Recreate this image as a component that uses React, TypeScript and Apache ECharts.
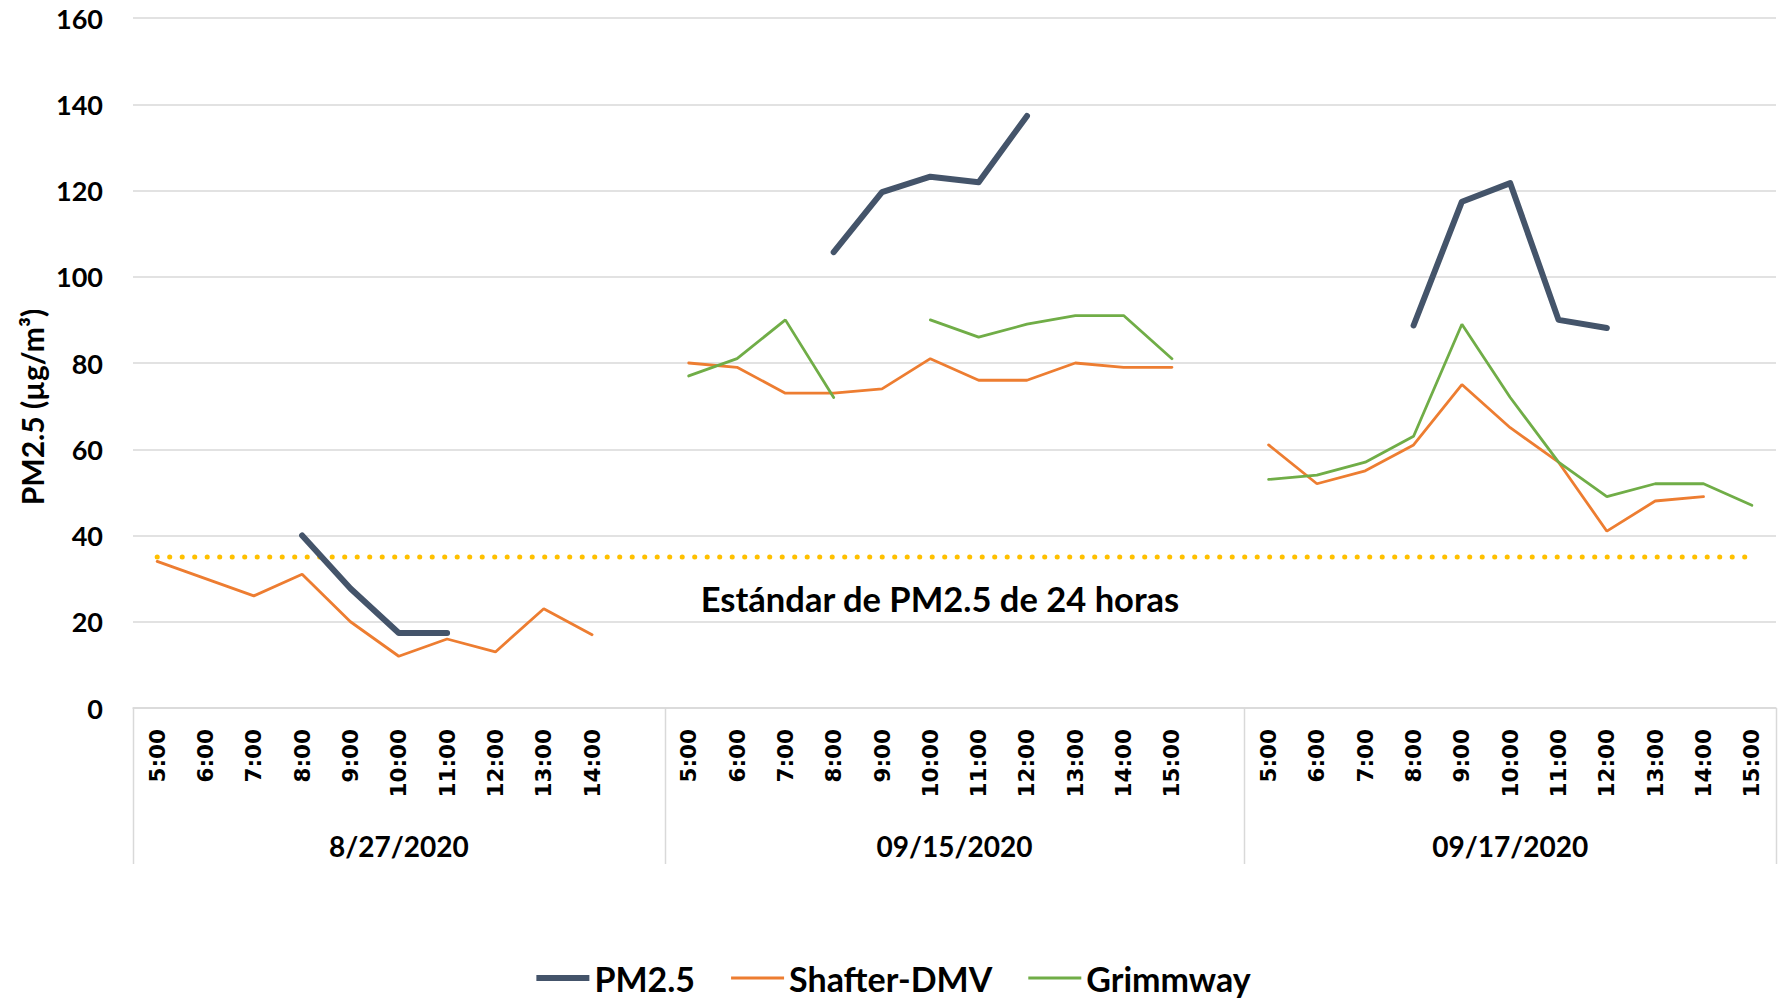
import React, { useEffect, useRef } from "react";
import * as echarts from "echarts";

// ---------- data ----------
const hours0827 = ["5:00", "6:00", "7:00", "8:00", "9:00", "10:00", "11:00", "12:00", "13:00", "14:00"];
const hours0915 = ["5:00", "6:00", "7:00", "8:00", "9:00", "10:00", "11:00", "12:00", "13:00", "14:00", "15:00"];
const hours0917 = ["5:00", "6:00", "7:00", "8:00", "9:00", "10:00", "11:00", "12:00", "13:00", "14:00", "15:00"];
const dates = ["8/27/2020", "09/15/2020", "09/17/2020"];

const pm25_0827 = [null, null, null, 40, 27.7, 17.4, 17.4, null, null, null];
const pm25_0915 = [null, null, null, 105.7, 119.6, 123.2, 121.9, 137.3, null, null, null];
const pm25_0917 = [null, null, null, 88.7, 117.4, 121.7, 90, 88.1, null, null, null];

const shafter_0827 = [34, 30, 26, 31, 20, 12, 16, 13, 23, 17];
const shafter_0915 = [80, 79, 73, 73, 74, 81, 76, 76, 80, 79, 79];
const shafter_0917 = [61, 52, 55, 61, 75, 65, 57, 41, 48, 49, null];

const grimmway_0827 = [null, null, null, null, null, null, null, null, null, null];
const grimmway_0915 = [77, 81, 90, 72, null, 90, 86, 89, 91, 91, 81];
const grimmway_0917 = [53, 54, 57, 63, 89, 72, 57, 49, 52, 52, 47];

const STANDARD_24H = 35;
const standardLabel = "Estándar de PM2.5 de 24 horas";
const yAxisTitle = "PM2.5 (µg/m³)";
const yTicks = { min: 0, max: 160, interval: 20 };

// ---------- helpers ----------
const groups = [hours0827, hours0915, hours0917];
const categories: string[] = [...hours0827, "", ...hours0915, "", ...hours0917];
const join3 = (a: any[], b: any[], c: any[]) => [...a, null, ...b, null, ...c];

const pm25 = join3(pm25_0827, pm25_0915, pm25_0917);
const shafter = join3(shafter_0827, shafter_0915, shafter_0917);
const grimmway = join3(grimmway_0827, grimmway_0915, grimmway_0917);
const standard = categories.map(() => STANDARD_24H);

const LABEL_FONT = "Lato, 'Open Sans', sans-serif";
const GRID_COLOR = "#D9D9D9";
const C_PM = "#44546A";
const C_SH = "#ED7D31";
const C_GR = "#70AD47";

export default function App() {
  const ref = useRef<HTMLDivElement>(null);

  useEffect(() => {
    if (!ref.current) return;
    const chart = echarts.init(ref.current, undefined, { renderer: "svg" });

    chart.setOption({
      animation: false,
      backgroundColor: "#ffffff",
      grid: { left: 133, right: 11, top: 18, bottom: 290, containLabel: false },
      legend: {
        data: [
          { name: "PM2.5", icon: "path://M0,0H53V6H0Z" },
          { name: "Shafter-DMV", icon: "path://M0,0H53V3H0Z" },
          { name: "Grimmway", icon: "path://M0,0H53V3H0Z" },
        ],
        top: 961,
        left: "center",
        itemWidth: 53,
        itemHeight: 14,
        itemGap: 36,
        padding: 0,
        symbolKeepAspect: true,
        textStyle: {
          fontFamily: LABEL_FONT,
          fontWeight: "bold",
          fontSize: 34,
          lineHeight: 28,
          color: "#000",
        },
      },
      xAxis: {
        type: "category",
        data: categories,
        boundaryGap: true,
        axisLine: { show: true, lineStyle: { color: GRID_COLOR, width: 1.5 } },
        axisTick: { show: false },
        axisLabel: {
          rotate: 90,
          interval: 0,
          margin: 21,
          fontFamily: "'DejaVu Sans', sans-serif",
          fontWeight: "bold",
          fontSize: 21.5,
          color: "#000",
        },
        splitLine: { show: false },
      },
      yAxis: {
        type: "value",
        min: yTicks.min,
        max: yTicks.max,
        interval: yTicks.interval,
        axisLine: { show: false },
        axisTick: { show: false },
        axisLabel: { margin: 30, fontFamily: LABEL_FONT, fontWeight: "bold", fontSize: 27, color: "#000" },
        splitLine: { lineStyle: { color: GRID_COLOR, width: 1.5 } },
      },
      series: [
        {
          name: "Estándar",
          type: "line",
          data: standard,
          symbol: "none",
          silent: true,
          z: 1,
          lineStyle: { color: "#FFC000", width: 5, type: [0.1, 12.4], cap: "round" },
        },
        {
          name: "PM2.5",
          type: "line",
          data: pm25,
          symbol: "none",
          z: 3,
          itemStyle: { color: C_PM },
          lineStyle: { color: C_PM, width: 6, cap: "round", join: "round" },
        },
        {
          name: "Shafter-DMV",
          type: "line",
          data: shafter,
          symbol: "none",
          z: 2,
          itemStyle: { color: C_SH },
          lineStyle: { color: C_SH, width: 2.8, cap: "round" },
        },
        {
          name: "Grimmway",
          type: "line",
          data: grimmway,
          symbol: "none",
          z: 2,
          itemStyle: { color: C_GR },
          lineStyle: { color: C_GR, width: 2.8, cap: "round" },
        },
      ],
    });

    // Multi-level category decorations computed from the axis scale
    const px = (i: number) => chart.convertToPixel({ xAxisIndex: 0 }, i) as number;
    const py = (v: number) => chart.convertToPixel({ yAxisIndex: 0 }, v) as number;
    const bw = px(1) - px(0);
    const boundary = (k: number) => px(0) - bw / 2 + k * bw;
    const y0 = py(0);

    const starts: number[] = [];
    let k = 0;
    groups.forEach((g) => {
      starts.push(k);
      k += g.length + 1;
    });
    const edges = [...starts, categories.length];

    const graphics: any[] = [];
    edges.forEach((e) => {
      const x = Math.round(boundary(e)) + 0.5;
      graphics.push({
        type: "line",
        shape: { x1: x, y1: y0, x2: x, y2: y0 + 156 },
        style: { stroke: GRID_COLOR, lineWidth: 1.5 },
        silent: true,
      });
    });
    dates.forEach((d, i) => {
      const a = boundary(starts[i]);
      const b = boundary(edges[i + 1]);
      graphics.push({
        type: "text",
        x: (a + b) / 2,
        y: y0 + 138,
        style: {
          text: d,
          fontFamily: LABEL_FONT,
          fontWeight: "bold",
          fontSize: 28,
          fill: "#000",
          align: "center",
          verticalAlign: "middle",
        },
        silent: true,
      });
    });
    // annotation for the standard line
    const annX = px(16) + 0.2 * (px(17) - px(16));
    graphics.push({
      type: "text",
      x: annX,
      y: py(25.5),
      style: {
        text: standardLabel,
        fontFamily: LABEL_FONT,
        fontWeight: "bold",
        fontSize: 34.5,
        fill: "#000",
        align: "center",
        verticalAlign: "middle",
      },
      silent: true,
    });
    // y-axis title
    graphics.push({
      type: "text",
      x: 32,
      y: 407,
      rotation: Math.PI / 2,
      style: {
        text: yAxisTitle,
        fontFamily: LABEL_FONT,
        fontWeight: "bold",
        fontSize: 30,
        fill: "#000",
        align: "center",
        verticalAlign: "middle",
      },
      silent: true,
    });
    chart.setOption({ graphic: graphics });

    return () => chart.dispose();
  }, []);

  return (
    <div
      ref={ref}
      style={{ position: "absolute", left: 0, top: 0, width: 1787, height: 998, background: "#fff" }}
    />
  );
}
